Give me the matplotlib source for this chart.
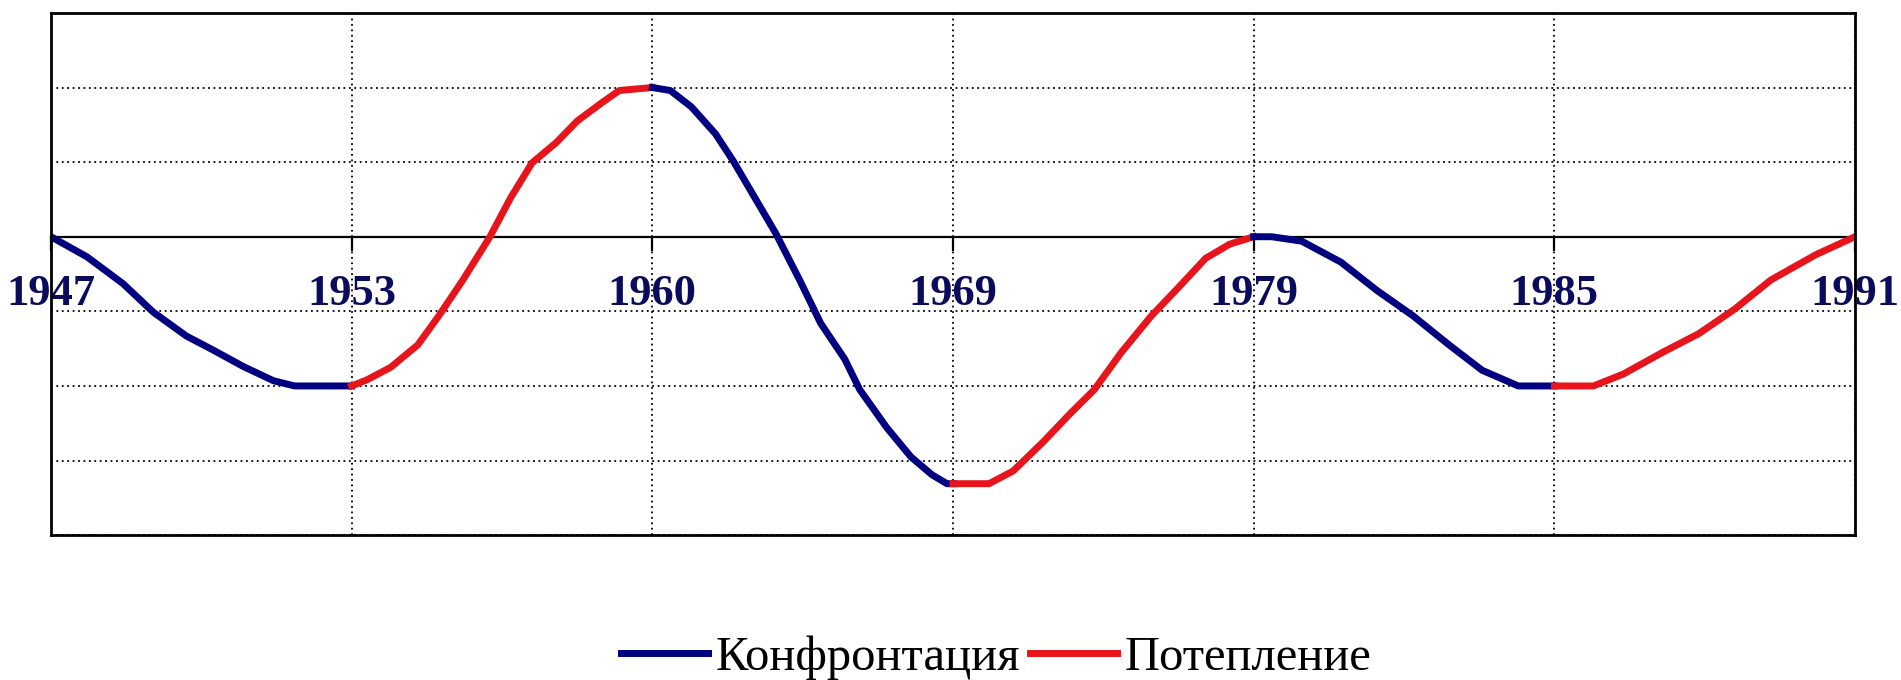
import matplotlib
matplotlib.use('Agg')
import matplotlib.pyplot as plt

plt.rcParams['font.family'] = ['Liberation Serif', 'DejaVu Serif']

years = ['1947', '1953', '1960', '1969', '1979', '1985', '1991']

# curve, x in category units (0 = 1947 ... 6 = 1991)
conf1_x = [0, 0.12, 0.24, 0.34, 0.45, 0.54, 0.64, 0.74, 0.81, 1.0]
conf1_y = [0, -0.27, -0.63, -1.01, -1.33, -1.52, -1.74, -1.93, -2.0, -2.0]

warm1_x = [1, 1.05, 1.13, 1.22, 1.29, 1.37, 1.46, 1.53, 1.60, 1.68, 1.75, 1.83, 1.89, 2.0]
warm1_y = [-2.0, -1.92, -1.75, -1.45, -1.06, -0.58, 0, 0.53, 0.99, 1.26, 1.55, 1.79, 1.96, 2.0]

conf2_x = [2, 2.06, 2.13, 2.21, 2.27, 2.34, 2.41, 2.49, 2.56, 2.64, 2.69, 2.78, 2.86, 2.93, 2.98, 3.0]
conf2_y = [2.0, 1.96, 1.74, 1.38, 1.01, 0.53, 0.05, -0.58, -1.16, -1.64, -2.05, -2.56, -2.95, -3.19, -3.31, -3.31]

warm2_x = [3, 3.12, 3.20, 3.30, 3.39, 3.47, 3.56, 3.66, 3.75, 3.84, 3.92, 4.0]
warm2_y = [-3.31, -3.31, -3.14, -2.75, -2.37, -2.05, -1.55, -1.06, -0.68, -0.29, -0.10, 0]

conf3_x = [4, 4.06, 4.16, 4.29, 4.41, 4.53, 4.65, 4.76, 4.88, 5.0]
conf3_y = [0, 0, -0.06, -0.34, -0.72, -1.06, -1.45, -1.79, -2.0, -2.0]

warm3_x = [5, 5.13, 5.23, 5.36, 5.48, 5.60, 5.72, 5.87, 6.0]
warm3_y = [-2.0, -2.0, -1.84, -1.55, -1.30, -0.97, -0.58, -0.24, 0]

blue = '#000080'
red = '#e8141b'
label_color = '#0b0b5e'

fig = plt.figure(figsize=(19.01, 6.8), dpi=100)
ax = fig.add_axes([0.0268, 0.213, 0.9490, 0.768])

ymin, ymax = -4, 3
ax.set_xlim(0, len(years) - 1)
ax.set_ylim(ymin, ymax)
ax.set_xticks(range(len(years)))
ax.set_yticks(range(ymin, ymax + 1))
ax.tick_params(length=0, labelbottom=False, labelleft=False)
ax.grid(True, color='black', linestyle=(0, (1, 2)), linewidth=1.3)
for s in ax.spines.values():
    s.set_linewidth(2)

# zero line with the year labels hanging below it
zero_frac = (0 - ymin) / (ymax - ymin)
sec = ax.secondary_xaxis(zero_frac)
sec.set_xticks(range(len(years)), years)
sec.xaxis.set_ticks_position('bottom')
sec.spines['bottom'].set_linewidth(1.6)
sec.spines['top'].set_linewidth(1.6)
sec.tick_params(direction='out', length=10, width=1.6, pad=17,
                labelsize=32, labelcolor=label_color,
                bottom=True, top=False, labelbottom=True, labeltop=False)
for t in sec.get_xticklabels():
    t.set_fontweight('bold')

lw = 5
h1, = ax.plot(conf1_x, conf1_y, color=blue, lw=lw, label='Конфронтация')
h2, = ax.plot(warm1_x, warm1_y, color=red, lw=lw, label='Потепление')
ax.plot(conf2_x, conf2_y, color=blue, lw=lw)
ax.plot(warm2_x, warm2_y, color=red, lw=lw)
ax.plot(conf3_x, conf3_y, color=blue, lw=lw)
ax.plot(warm3_x, warm3_y, color=red, lw=lw)

fig.legend(handles=[h1, h2], loc='center', bbox_to_anchor=(0.524, 0.033),
           ncol=2, frameon=False, fontsize=35, handlelength=1.8,
           handletextpad=0.15, columnspacing=0.2)

fig.savefig('out.png', dpi=100)
